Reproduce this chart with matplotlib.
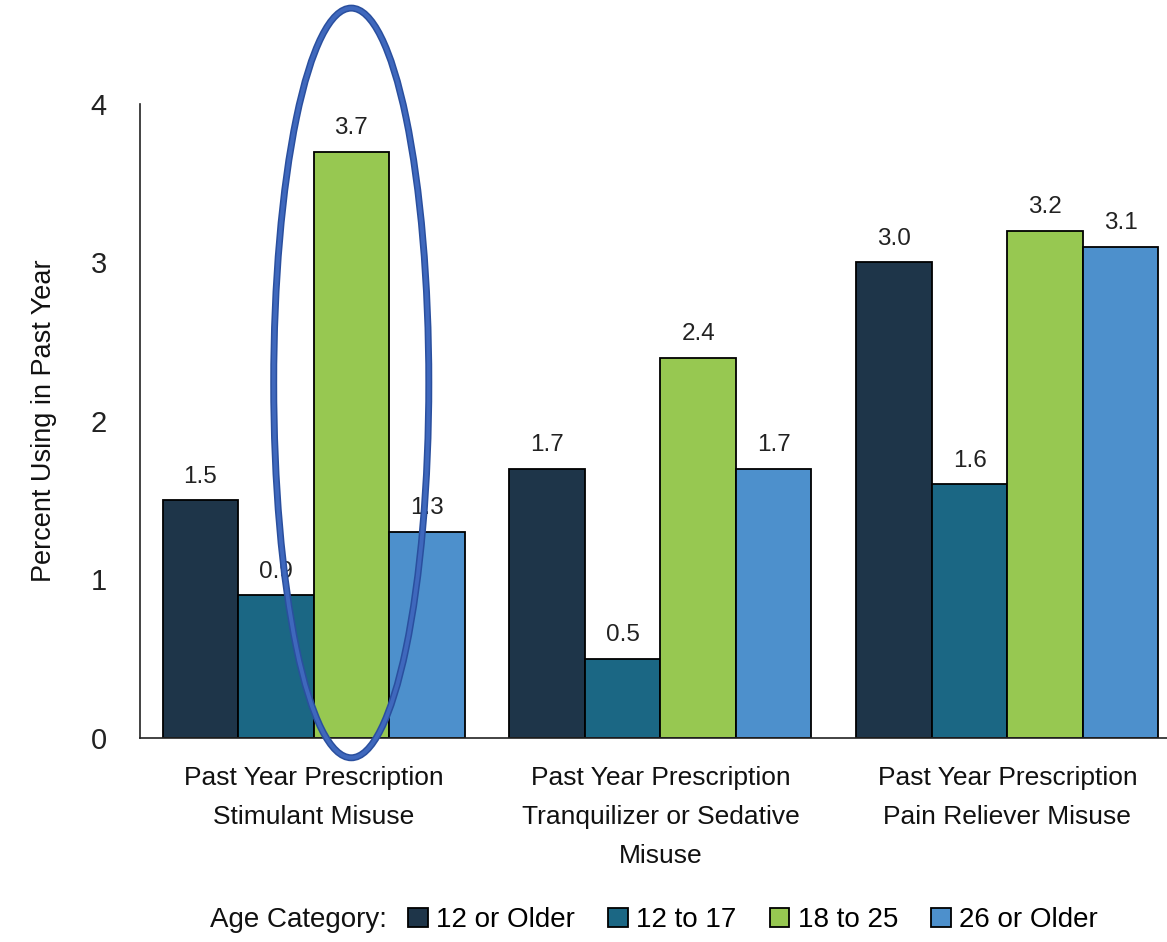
import numpy as np
import matplotlib.pyplot as plt
from matplotlib.patches import Ellipse

# values
categories = ["Past Year Prescription\nStimulant Misuse",
              "Past Year Prescription\nTranquilizer or Sedative\nMisuse",
              "Past Year Prescription\nPain Reliever Misuse"]
age_groups = ["12 or Older", "12 to 17", "18 to 25", "26 or Older"]
age12_older = [1.5, 1.7, 3.0]
age12_17 = [0.9, 0.5, 1.6]
age18_25 = [3.7, 2.4, 3.2]
age26_older = [1.3, 1.7, 3.1]
colors = ["#1e3549", "#1b6784", "#97c851", "#4d90cc"]

plt.rcParams['font.family'] = ['Liberation Sans Narrow', 'Liberation Sans', 'DejaVu Sans']

series = [age12_older, age12_17, age18_25, age26_older]
x = np.arange(len(categories))
w = 0.2176

fig = plt.figure(figsize=(11.67, 9.42), dpi=100)
ax = fig.add_axes([0.12, 0.2166, 0.88, 0.673])

for i, vals in enumerate(series):
    pos = x + (i - 1.5) * w
    ax.bar(pos, vals, w, color=colors[i], edgecolor="black", linewidth=1.3,
           label=age_groups[i])
    for xp, v in zip(pos, vals):
        ax.text(xp, v + 0.08, f"{v:.1f}", ha="center", va="bottom",
                fontsize=17.5, color="#222222")

ax.set_xlim(-0.5, 2.46)
ax.set_ylim(0, 4)
ax.set_yticks([0, 1, 2, 3, 4])
ax.tick_params(axis="y", length=0, pad=24, labelsize=21, labelcolor="#222222")
ax.tick_params(axis="x", length=0, pad=20, labelsize=19, labelcolor="#111111")
ax.set_xticks(x)
ax.set_xticklabels(categories, linespacing=1.8, va="top")
ax.set_ylabel("Percent Using in Past Year", fontsize=19.5, labelpad=24, color="#111111")

for s in ["top", "right"]:
    ax.spines[s].set_visible(False)
ax.spines["left"].set_color("#222222")
ax.spines["bottom"].set_color("#222222")
ax.spines["left"].set_linewidth(1.2)
ax.spines["bottom"].set_linewidth(1.2)

# highlight around the stimulant 18-25 bar
ell = Ellipse((x[0] + 0.5 * w, 2.24), 0.447, 4.73, fill=False,
              edgecolor="#2a4f9e", linewidth=5, clip_on=False, zorder=5)
ax.add_patch(ell)
ell2 = Ellipse((x[0] + 0.5 * w, 2.24), 0.447, 4.73, fill=False,
               edgecolor="#3f68bd", linewidth=2.8, clip_on=False, zorder=6)
ax.add_patch(ell2)

ly = 1 - 920 / 942
fig.text(0.18, ly, "Age Category:", fontsize=20, va="center", color="#111111")
fig.legend(loc="center left", bbox_to_anchor=(0.35, ly), ncol=4, frameon=False,
           fontsize=20, handlelength=0.7, handleheight=0.7, borderpad=0,
           borderaxespad=0, handletextpad=0.3, columnspacing=1.2)

fig.savefig("out.png", dpi=100)
